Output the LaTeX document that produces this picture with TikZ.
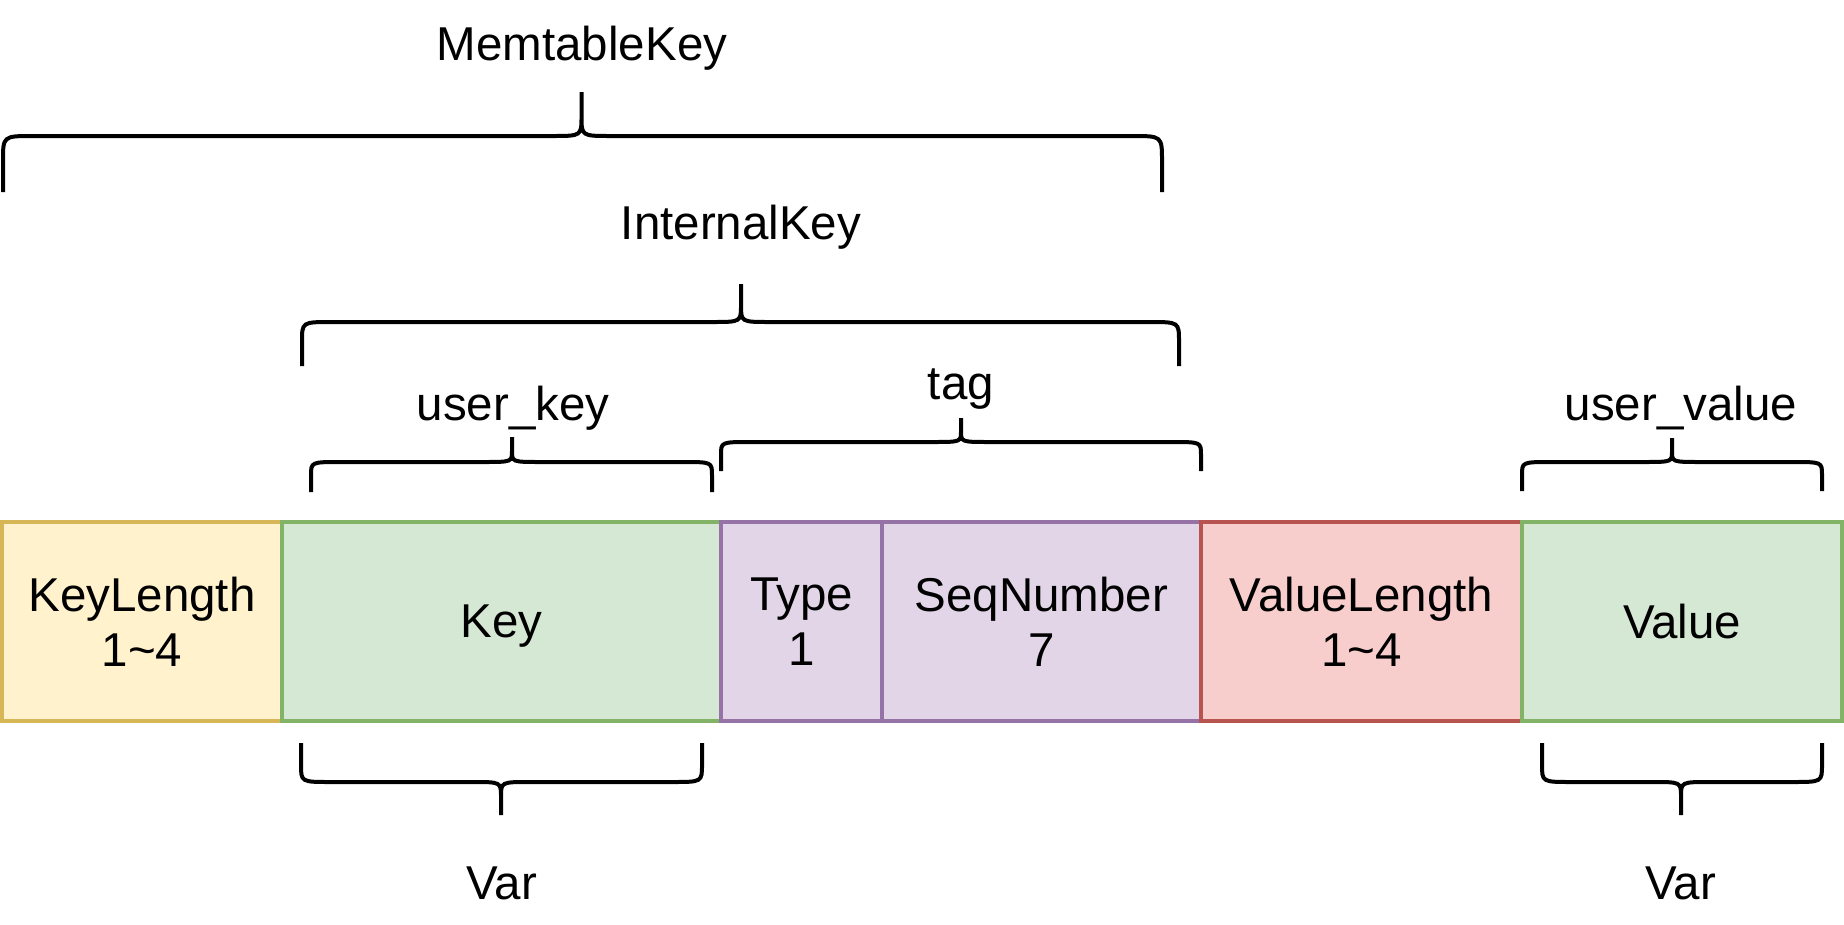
\documentclass[tikz,border=0pt]{standalone}
\usepackage{fontspec}
\setmainfont{Liberation Sans}
\definecolor{yfill}{HTML}{FFF2CC}
\definecolor{ydraw}{HTML}{D6B656}
\definecolor{gfill}{HTML}{D5E8D4}
\definecolor{gdraw}{HTML}{82B366}
\definecolor{pfill}{HTML}{E1D5E7}
\definecolor{pdraw}{HTML}{9673A6}
\definecolor{rfill}{HTML}{F8CECC}
\definecolor{rdraw}{HTML}{B85450}
\newcommand\mybrace[6]{% L R C E H T
  \pgfmathsetmacro\bya{#5+0.45*(#4-#5)}%
  \pgfmathsetmacro\byb{#5-0.45*(#5-#6)}%
  \pgfmathsetmacro\bxa{#1+30}%
  \pgfmathsetmacro\bxb{#3-29}%
  \pgfmathsetmacro\bxc{#3+29}%
  \pgfmathsetmacro\bxd{#2-30}%
  \draw[bracestyle] (#1,#4) -- (#1,\bya) .. controls (#1,#5) .. (\bxa,#5) -- (\bxb,#5)
    .. controls (#3,#5) .. (#3,\byb) -- (#3,#6)
    (#3,\byb) .. controls (#3,#5) .. (\bxc,#5) -- (\bxd,#5)
    .. controls (#2,#5) .. (#2,\bya) -- (#2,#4);
}
\begin{document}
\begin{tikzpicture}[x=1pt,y=-1pt,
  cell/.style={draw, line width=4pt, inner sep=0pt, outer sep=0pt, align=center,
    font=\fontsize{47.5}{55}\selectfont, text depth=0pt, minimum height=199pt},
  lbl/.style={anchor=base, inner sep=0pt, font=\fontsize{47.5}{55}\selectfont},
  bracestyle/.style={line width=4pt, black}]
\useasboundingbox (0,0) rectangle (1844,924);

\node[cell, fill=yfill, draw=ydraw, minimum width=280pt] (klen) at (142,621.5) {KeyLength\\1\textasciitilde 4};
\node[cell, fill=gfill, draw=gdraw, minimum width=439pt] (key) at (501.5,621.5) {Key};
\node[cell, fill=pfill, draw=pdraw, minimum width=161pt] (type) at (801.5,621.5) {Type\\1};
\node[cell, fill=pfill, draw=pdraw, minimum width=319pt] (seq) at (1041.5,621.5) {SeqNumber\\7};
\node[cell, fill=rfill, draw=rdraw, minimum width=321pt] (vlen) at (1361.5,621.5) {ValueLength\\1\textasciitilde 4};
\node[cell, fill=gfill, draw=gdraw, minimum width=320pt] (val) at (1682,621.5) {Value};

\node[lbl] (mk) at (582,60) {MemtableKey};
\node[lbl] (ik) at (741,239) {InternalKey};
\node[lbl] (uk) at (513,420) {user\_key};
\node[lbl] (tg) at (961,399) {tag};
\node[lbl] (uv) at (1681,420) {user\_value};
\node[lbl] (var1) at (502,899) {Var};
\node[lbl] (var2) at (1681,899) {Var};

\mybrace{3}{1162}{581.5}{192}{136}{92}
\mybrace{302}{1179}{741}{366}{322}{284}
\mybrace{311}{712}{512}{492}{462}{437}
\mybrace{721}{1201}{961}{471}{442}{418}
\mybrace{1522}{1822}{1672}{491}{462}{438}
\mybrace{301}{702}{501}{743}{782}{815}
\mybrace{1542}{1822}{1681}{743}{782}{815}
\end{tikzpicture}
\end{document}
